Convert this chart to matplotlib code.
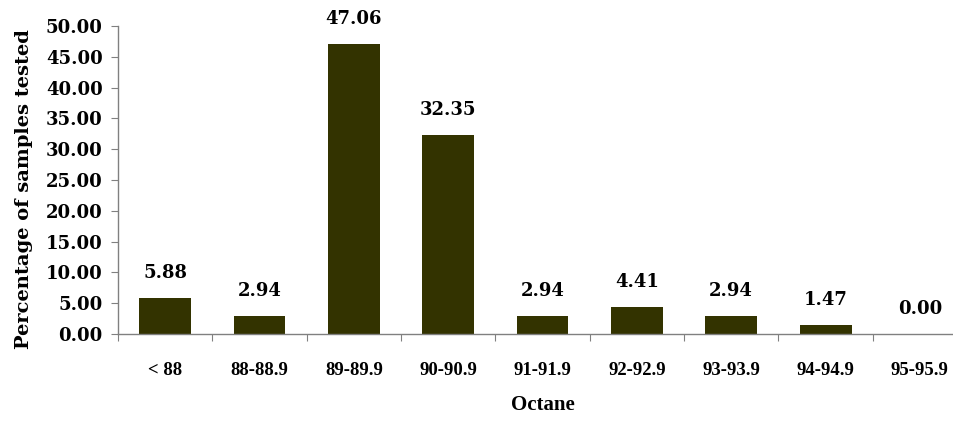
import numpy as np
import matplotlib
matplotlib.use("Agg")
import matplotlib.pyplot as plt

# octane ranges and percent of samples
categories = ["< 88", "88-88.9", "89-89.9", "90-90.9", "91-91.9",
              "92-92.9", "93-93.9", "94-94.9", "95-95.9"]
percent = [5.88, 2.94, 47.06, 32.35, 2.94, 4.41, 2.94, 1.47, 0.00]
yticks = [0, 5, 10, 15, 20, 25, 30, 35, 40, 45, 50]

bar_color = "#333300"
num_font = "DejaVu Serif"
cat_font = "Liberation Serif"

fig = plt.figure(figsize=(9.54, 4.21), dpi=100)
# axes runs past the right edge, like the original clipped chart
ax = fig.add_axes([0.1237, 0.2067, 0.89, 0.7316])

x = np.arange(len(categories))
ax.bar(x, percent, width=0.55, color=bar_color, zorder=2)

for xi, v in zip(x, percent):
    ax.annotate("%.2f" % v, (xi, v), xytext=(0, 18), textcoords="offset points",
                ha="center", va="center", fontsize=13, fontweight="bold",
                family=num_font)

ax.set_xlim(-0.5, len(categories) - 0.5)
ax.set_ylim(0, 50)
ax.set_yticks(yticks)
ax.set_yticklabels(["%.2f" % t for t in yticks], fontsize=13,
                   fontweight="bold", family=num_font)

# ticks on category boundaries, labels centred below
ax.set_xticks(np.arange(len(categories) + 1) - 0.5)
ax.set_xticklabels([])
ax.set_xticks(x, minor=True)
ax.set_xticklabels(categories, minor=True, fontsize=13.5, fontweight="bold",
                   family=cat_font)
ax.tick_params(axis="x", which="minor", length=0, pad=20)
ax.tick_params(axis="x", which="major", length=5, color="#808080", direction="out")
ax.tick_params(axis="y", length=5, color="#808080", direction="out", pad=6)

for s in ["top", "right"]:
    ax.spines[s].set_visible(False)
for s in ["left", "bottom"]:
    ax.spines[s].set_color("#808080")
    ax.spines[s].set_linewidth(1.0)

ax.set_xlabel("Octane", fontsize=15, fontweight="bold", family=cat_font, labelpad=12)
ax.set_ylabel("Percentage of samples tested", fontsize=14, fontweight="bold",
              family=num_font)
ax.yaxis.set_label_coords(-0.100, 0.47)

fig.savefig("out.png", dpi=100)
